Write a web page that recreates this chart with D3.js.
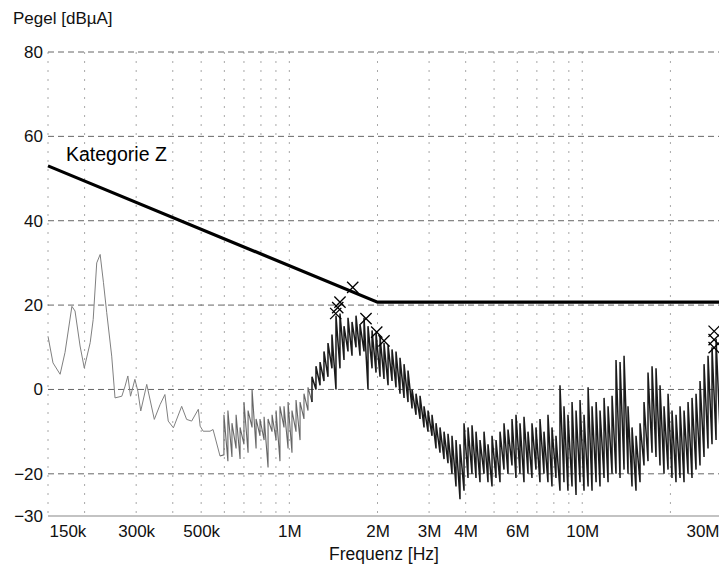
<!DOCTYPE html>
<html>
<head>
<meta charset="utf-8">
<script src="https://cdn.jsdelivr.net/npm/d3@7"></script>
<style>
  body { margin: 0; background: #fff; }
  text { font-family: "Liberation Sans", Arial, sans-serif; }
</style>
</head>
<body>
<svg id="chart"></svg>
<script>
// frequencies in kHz, levels in dBµA

// smooth low-frequency part of the measured trace
const lowFreq = [150, 156, 165, 171.5, 181, 185.5, 193, 199.5, 209, 214,
  220, 226, 232, 238, 247.5, 254, 268, 275, 281, 287,
  297, 304, 311, 326, 346, 362, 376, 386, 402, 429,
  446, 464, 489, 496, 508, 536, 549, 580];
const lowLevel = [12.6, 6.3, 3.6, 8.8, 19.7, 18.6, 10.3, 5.1, 11.1, 16.6,
  30, 32, 25.3, 18.2, 7.9, -2, -1.6, 0.8, 3.2, -1.6,
  2.4, -0.4, -5.1, 1.2, -7.1, -3.6, -1.2, -7.5, -9.1, -4.0,
  -7.1, -7.5, -4.7, -8.7, -9.9, -9.9, -9.5, -15.8];

// dense (noisy) part: min / max per frequency bin
const denseFreq = [598, 617, 637, 658, 679, 700, 723, 746, 770, 794,
  820, 846, 873, 901, 929, 959, 990, 1021, 1054, 1088,
  1122, 1158, 1195, 1233, 1273, 1313, 1355, 1398, 1443, 1489,
  1537, 1586, 1637, 1689, 1743, 1799, 1856, 1916, 1977, 2040,
  2105, 2173, 2242, 2313, 2387, 2464, 2542, 2624, 2707, 2794,
  2883, 2975, 3070, 3168, 3269, 3374, 3481, 3592, 3707, 3825,
  3948, 4074, 4204, 4338, 4477, 4620, 4767, 4920, 5077, 5239,
  5406, 5579, 5757, 5940, 6130, 6326, 6528, 6736, 6951, 7173,
  7402, 7638, 7882, 8134, 8394, 8662, 8938, 9229, 9524, 9827,
  10140, 10470, 10800, 11150, 11500, 11870, 12250, 12640, 13040, 13460,
  13890, 14330, 14790, 15260, 15750, 16250, 16770, 17310, 17860, 18430,
  19020, 19630, 20250, 20900, 21570, 22260, 22970, 23700, 24460, 25240,
  26050, 26880, 27740, 28630, 29540];
const denseLo = [-15.5, -17, -16, -14, -16.5, -13, -15, -9, -14, -11,
  -12, -18.5, -10, -12, -17, -9, -14, -15, -10, -12,
  -7, -5, -3, 0, 1, 2, 3, 5, 0, 5,
  7, 9, 8, 10, 8, 9, 0, 5, 4, 3,
  2.5, 1, 2, 0.5, -1, -2, -3, -4.5, -6, -7,
  -9, -10, -11, -14, -15, -16.5, -17.5, -20, -23, -26,
  -24, -21, -20, -21, -22, -20, -22, -23, -21, -22,
  -19, -20, -18, -21, -20, -22, -20, -21, -19, -22,
  -20, -22, -23, -21, -24, -22, -24, -23, -25, -22,
  -24, -23, -24, -22, -23, -21, -22, -20, -20, -21,
  -19, -20, -23, -24, -22, -18, -17, -15, -16, -18,
  -20, -19, -21, -22, -21, -22, -20, -21, -19, -18,
  -16, -14, -13, -12, -10];
const denseHi = [-6, -5, -8, -6, -9, -3, -5, 0, -7, -7,
  -6.5, -7, -6, -5, -4, -4, -3, -5, -2.5, -3,
  -1, 0.5, 3, 5.5, 6.5, 9, 11, 13, 17.5, 18,
  15, 17, 16, 17.5, 15.5, 17, 15, 14, 13.5, 12.5,
  11, 10.5, 9.5, 9, 7.5, 6, 4.5, 0, -1, -1.5,
  -4, -5, -6, -8, -9, -10, -10.5, -11, -12, -13,
  -8, -9, -8.5, -10, -12, -10, -13, -11, -12, -10,
  -8, -9.5, -7, -6, -8, -6.5, -10, -8, -9, -7,
  -10, -6, -9, -11, 1, -4, -6, -3, -5, -2.5,
  -6, 0.5, -4, -3, -5, -2, -4, -1.5, 7, 6.5,
  8, -4, -9, -11, -8, -3, 4, 5.5, 5, 1,
  -4, -1, -5, -6, -4, -5, -3, -2, -1, 2,
  6, 8, 10, 12, 13];

// limit line "Kategorie Z"
const limitFreq = [150, 2000, 30000];
const limitLevel = [53, 20.7, 20.7];

// peak markers
const markerFreq = [1646, 1489, 1463, 1440, 1827, 1988, 2105, 28200, 28200, 28200];
const markerLevel = [24.2, 20.7, 19.4, 18.0, 16.8, 13.6, 11.5, 13.8, 11.8, 9.9];

// axes
const xTicks = [150, 300, 500, 1000, 2000, 3000, 4000, 6000, 10000, 30000];
const xTickLabels = ["150k", "300k", "500k", "1M", "2M", "3M", "4M", "6M", "10M", "30M"];
const yTicks = [-30, -20, 0, 20, 40, 60, 80];
const yGrid = [-20, 0, 20, 40, 60, 80];
const xGrid = [150, 200, 300, 400, 500, 600, 700, 800, 900,
  1000, 2000, 3000, 4000, 5000, 6000, 7000, 8000, 9000,
  10000, 20000, 30000];

const W = 719, H = 565;
const margin = { top: 52, right: -3, bottom: 49, left: 48 };

const svg = d3.select("#chart")
  .attr("width", W)
  .attr("height", H);

const x = d3.scaleLog()
  .domain([150, 30000])
  .range([margin.left, W - margin.right]);

const y = d3.scaleLinear()
  .domain([-30, 80])
  .range([H - margin.bottom, margin.top]);

// grid
svg.append("g")
  .selectAll("line")
  .data(xGrid)
  .enter().append("line")
  .attr("x1", d => x(d)).attr("x2", d => x(d))
  .attr("y1", y(80)).attr("y2", y(-30))
  .attr("stroke", "#a8a8a8")
  .attr("stroke-width", 1)
  .attr("stroke-dasharray", "2,7");

svg.append("g")
  .selectAll("line")
  .data(yGrid)
  .enter().append("line")
  .attr("x1", x(150)).attr("x2", W)
  .attr("y1", d => y(d)).attr("y2", d => y(d))
  .attr("stroke", "#666")
  .attr("stroke-width", 1)
  .attr("stroke-dasharray", "6,4");

// bottom frame line
svg.append("line")
  .attr("x1", x(150)).attr("x2", W)
  .attr("y1", y(-30)).attr("y2", y(-30))
  .attr("stroke", "#888")
  .attr("stroke-width", 1.2);

// axes (labels only)
const xAxis = svg.append("g")
  .attr("transform", `translate(0,${y(-30)})`)
  .call(d3.axisBottom(x).tickValues(xTicks).tickFormat((d, i) => xTickLabels[i]).tickSize(0).tickPadding(9));
xAxis.select(".domain").remove();
xAxis.selectAll("text")
  .style("font-size", "17px")
  .attr("fill", "#111")
  .attr("text-anchor", (d, i) => i === 0 ? "start" : (i === xTicks.length - 1 ? "end" : "middle"))
  .attr("dx", (d, i) => i === 0 ? 1 : (i === xTicks.length - 1 ? -3 : 0));

const yAxis = svg.append("g")
  .attr("transform", `translate(${margin.left},0)`)
  .call(d3.axisLeft(y).tickValues(yTicks).tickSize(0).tickPadding(5));
yAxis.select(".domain").remove();
yAxis.selectAll("text")
  .style("font-size", "17px")
  .attr("fill", "#111");

svg.append("text")
  .attr("x", 13)
  .attr("y", 24)
  .style("font-size", "17px")
  .attr("fill", "#111")
  .text("Pegel [dBµA]");

svg.append("text")
  .attr("x", 384)
  .attr("y", 560)
  .attr("text-anchor", "middle")
  .style("font-size", "17.5px")
  .attr("fill", "#111")
  .text("Frequenz [Hz]");

// measured trace
const line = d3.line()
  .x(d => x(d[0]))
  .y(d => y(d[1]));

const lowPts = lowFreq.map((f, i) => [f, lowLevel[i]]);
svg.append("path")
  .attr("d", line(lowPts))
  .attr("fill", "none")
  .attr("stroke", "#808080")
  .attr("stroke-width", 1);

const densePts = denseFreq.flatMap((f, i) => [[f, denseLo[i]], [f, denseHi[i]]]);
const split = 44; // first ~22 bins are paler in the scan
svg.append("path")
  .attr("d", line([lowPts[lowPts.length - 1]].concat(densePts.slice(0, split + 1))))
  .attr("fill", "none")
  .attr("stroke", "#666")
  .attr("stroke-width", 1.1);
svg.append("path")
  .attr("d", line(densePts.slice(split)))
  .attr("fill", "none")
  .attr("stroke", "#1a1a1a")
  .attr("stroke-width", 1.5);

// limit line
svg.append("path")
  .attr("d", line(limitFreq.map((f, i) => [f, limitLevel[i]])))
  .attr("fill", "none")
  .attr("stroke", "#000")
  .attr("stroke-width", 3.2);

svg.append("text")
  .attr("x", 66)
  .attr("y", 161)
  .style("font-size", "19.5px")
  .attr("fill", "#000")
  .text("Kategorie Z");

// markers
const sym = d3.symbol().type(d3.symbolX).size(84);
svg.append("g")
  .selectAll("path")
  .data(markerFreq)
  .enter().append("path")
  .attr("transform", (d, i) => `translate(${x(d)},${y(markerLevel[i])})`)
  .attr("d", sym)
  .attr("fill", "none")
  .attr("stroke", "#000")
  .attr("stroke-width", 1.3);
</script>
</body>
</html>
